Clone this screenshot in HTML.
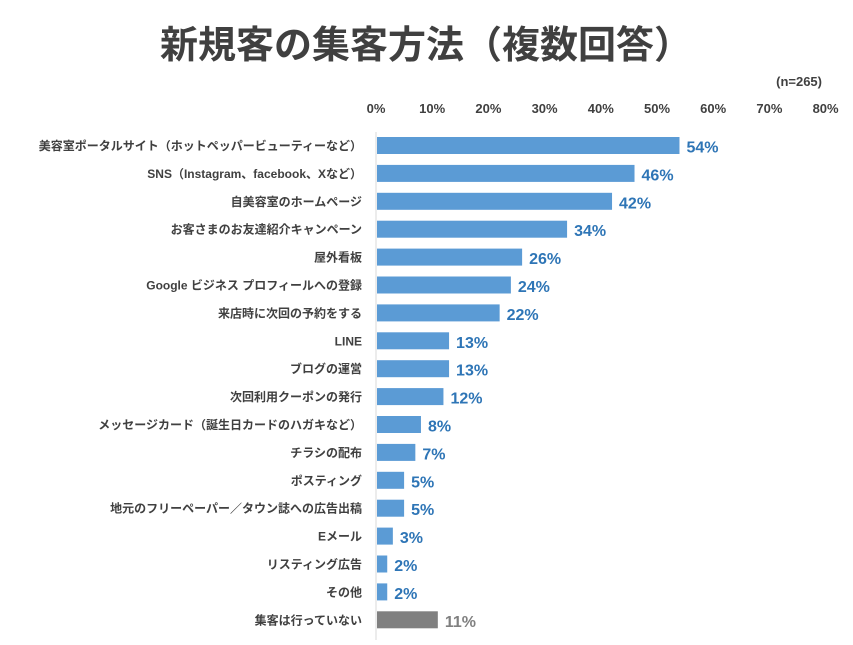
<!DOCTYPE html>
<html><head><meta charset="utf-8"><style>
body{margin:0;background:#fff;width:853px;height:640px;overflow:hidden;font-family:"Liberation Sans","Noto Sans CJK JP",sans-serif;}
</style></head><body>
<svg width="853" height="640" xmlns="http://www.w3.org/2000/svg">
<text x="426" y="58" text-anchor="middle" font-size="38" font-weight="bold" fill="#404040" font-family="Noto Sans CJK JP, sans-serif">新規客の集客方法（複数回答）</text>
<text x="822" y="86" text-anchor="end" font-size="13" font-weight="bold" fill="#404040">(n=265)</text>
<g id="g"></g>
</svg>
<script>
const categories=["美容室ポータルサイト（ホットペッパービューティーなど）","SNS（Instagram、facebook、Xなど）","自美容室のホームページ","お客さまのお友達紹介キャンペーン","屋外看板","Google ビジネス プロフィールへの登録","来店時に次回の予約をする","LINE","ブログの運営","次回利用クーポンの発行","メッセージカード（誕生日カードのハガキなど）","チラシの配布","ポスティング","地元のフリーペーパー／タウン誌への広告出稿","Eメール","リスティング広告","その他","集客は行っていない"];
const values=[54,46,42,34,26,24,22,13,13,12,8,7,5,5,3,2,2,11];
const tickLabels=[0,10,20,30,40,50,60,70,80];
const NS="http://www.w3.org/2000/svg";
const g=document.getElementById('g');
const x0=376,pxPer=5.62,y0=145.5,pitch=27.9,bh=17;
const X=v=>x0+v*pxPer, Y=i=>y0+i*pitch;
function mk(t,a){const e=document.createElementNS(NS,t);for(const k in a)e.setAttribute(k,a[k]);g.appendChild(e);return e;}
tickLabels.forEach(t=>{
 const e=mk('text',{x:X(t),y:113,'text-anchor':'middle','font-size':13,'font-weight':'bold',fill:'#404040'});
 e.textContent=t+'%';
 
 
});
const ax=mk('line',{x1:x0,x2:x0,y1:132,y2:640,stroke:'#d9d9d9','stroke-width':1});


categories.forEach((c,i)=>{
 const last=i===categories.length-1;
 const l=mk('text',{x:362,y:Y(i)+4.5,'text-anchor':'end','font-size':12,'font-weight':'bold',fill:'#404040'});
 l.textContent=c;
 
 
 const r=mk('rect',{x:x0+1,y:Y(i)-bh/2,width:Math.max(0,X(values[i])-x0-1),height:bh,fill:last?'#808080':'#5b9bd5'});
 
 
 const v=mk('text',{x:X(values[i])+7,y:Y(i)+7,'font-size':16,'font-weight':'bold',fill:last?'#808080':'#2e75b6'});
 v.textContent=values[i]+'%';
 
 
});
</script>
</body></html>
